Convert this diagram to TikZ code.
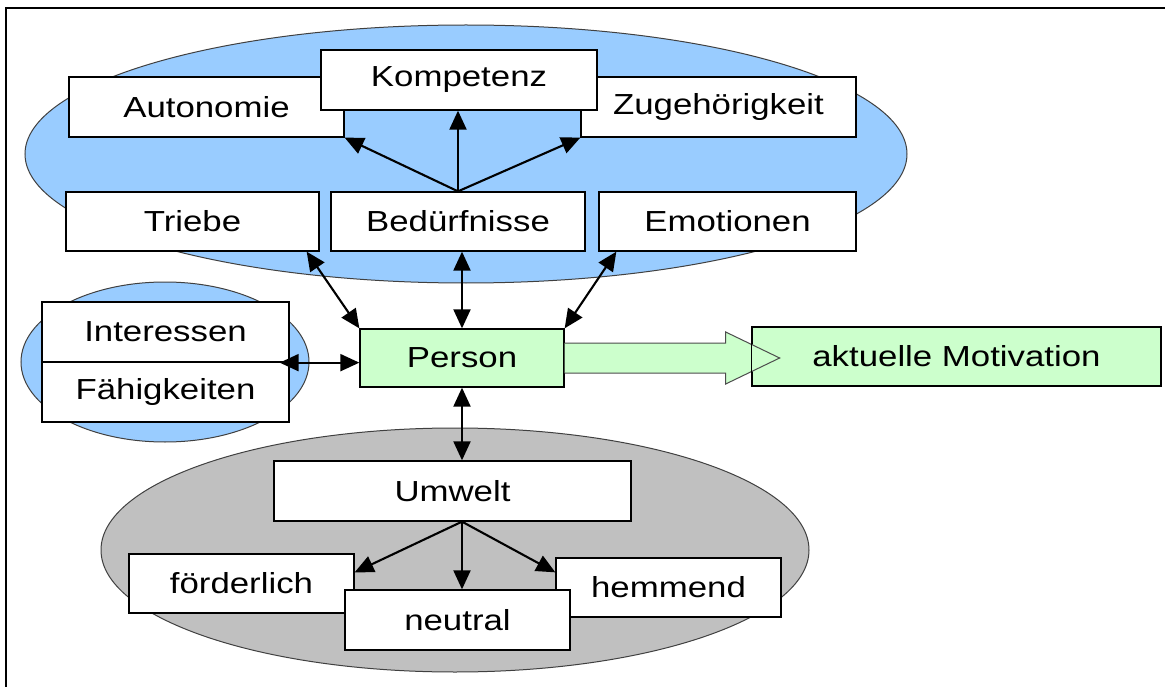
\documentclass[tikz,border=0pt]{standalone}
\usepackage{fontspec}
\setmainfont{Liberation Sans}[FakeStretch=1.2]
\usetikzlibrary{arrows.meta,calc}
\definecolor{skyfill}{HTML}{99CCFF}
\definecolor{greyfill}{HTML}{C0C0C0}
\definecolor{mintfill}{HTML}{CCFFCC}
\begin{document}
\begin{tikzpicture}[x=1pt,y=-1pt,
  box/.style={draw=black, line width=1.3pt, fill=white, rectangle, inner sep=0pt,
    minimum height=60pt, font=\fontsize{29}{34}\selectfont},
  cloud/.style={draw=black!75, line width=1pt},
  tipA/.style={line width=2.1pt, -{Triangle[length=19pt,width=17pt]}},
  tipAB/.style={line width=2.1pt, {Triangle[length=19pt,width=17pt]}-{Triangle[length=19pt,width=17pt]}}]
\useasboundingbox (0,0) rectangle (1165,687);
\fill[white] (0,0) rectangle (1165,687);
\draw[line width=2.2pt] (6,687) -- (6,8) -- (1165,8);

% background groups
\draw[cloud, fill=skyfill] (466,154) ellipse [x radius=441, y radius=129];
\draw[cloud, fill=skyfill] (165,362) ellipse [x radius=144, y radius=80];
\draw[cloud, fill=greyfill] (455,550) ellipse [x radius=354, y radius=122];

% needs
\node[box, minimum width=275pt] (auto) at (206.5,107) {Autonomie};
\node[box, minimum width=275pt] (zug) at (718.5,107) {Zugehörigkeit};
\node[box, minimum width=276pt] (komp) at (459,80) {Kompetenz};
\node[box, minimum width=253pt, minimum height=59pt] (trieb) at (192.5,221.5) {Triebe};
\node[box, minimum width=254pt, minimum height=59pt] (bed) at (458,221.5) {Bedürfnisse};
\node[box, minimum width=257pt, minimum height=59pt] (emo) at (727.5,221.5) {Emotionen};

% dispositions
\node[box, minimum width=247pt] (inter) at (165.5,332) {Interessen};
\node[box, minimum width=247pt] (faeh) at (165.5,392) {Fähigkeiten};

% person and result
\node[box, fill=mintfill, minimum width=204pt, minimum height=58pt] (person) at (462,358) {Person};
\node[box, fill=mintfill, minimum width=409pt, minimum height=59pt] (mot) at (956.5,356.5) {aktuelle Motivation};
\fill[mintfill] ($(person.east)+(0,-15)$) -- ($(person.east)+(161,-15)$) -- ($(person.east)+(161,-26)$)
  -- ($(person.east)+(215,0)$) -- ($(person.east)+(161,26)$) -- ($(person.east)+(161,15)$)
  -- ($(person.east)+(0,15)$) -- cycle;
\draw[draw=black!70, line width=1pt] ($(person.east)+(0,-15)$) -- ($(person.east)+(161,-15)$) -- ($(person.east)+(161,-26)$)
  -- ($(person.east)+(215,0)$) -- ($(person.east)+(161,26)$) -- ($(person.east)+(161,15)$)
  -- ($(person.east)+(0,15)$);
\draw[line width=1.3pt] (mot.north west) rectangle (mot.south east);

% environment
\node[box, minimum width=357pt] (umw) at (452.5,491) {Umwelt};
\node[box, minimum width=225pt, minimum height=59pt] (foerd) at (241.5,583.5) {förderlich};
\node[box, minimum width=225pt, minimum height=59pt] (hemm) at (668.5,587.5) {hemmend};
\node[box, minimum width=225pt] (neut) at (457.5,620) {neutral};

% connectors
\coordinate (needroot) at (bed.north);
\draw[tipA] (needroot) -- (needroot |- komp.south);
\draw[tipA] (needroot) -- (auto.south east);
\draw[tipA] (needroot) -- (zug.south west);

\draw[tipAB] ($(trieb.south east)+(-13,0)$) -- (person.north west);
\draw[tipAB] (person.north |- bed.south) -- (person.north);
\draw[tipAB] ($(emo.south west)+(18,0)$) -- (person.north east);
\draw[tipAB] ($(inter.south east)+(-10,0)$) -- (person.west |- inter.south east);
\draw[tipAB] (person.south) -- (person.south |- umw.north);

\coordinate (envroot) at (person.south |- umw.south);
\draw[tipA] (envroot) -- ($(foerd.north east)+(0,19)$);
\draw[tipA] (envroot) -- (envroot |- neut.north);
\draw[tipA] (envroot) -- ($(hemm.north west)+(0,15)$);
\end{tikzpicture}
\end{document}
